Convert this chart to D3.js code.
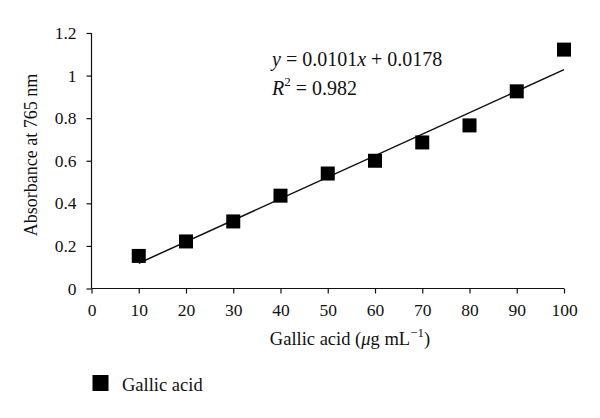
<!DOCTYPE html>
<html><head><meta charset="utf-8">
<script src="https://cdn.jsdelivr.net/npm/d3@7"></script>
<style>body{margin:0;background:#fff}text{font-family:"Liberation Serif","Times New Roman",serif;fill:#111}</style>
</head><body><svg id="c" width="600" height="418"></svg>
<script>
const concentrations = [10,20,30,40,50,60,70,80,90,100];
const absorbance = [0.153,0.221,0.315,0.436,0.54,0.60,0.686,0.766,0.926,1.122];
const xTicks = [0,10,20,30,40,50,60,70,80,90,100];
const yTicks = [0,0.2,0.4,0.6,0.8,1,1.2];
const slope = 0.0101, intercept = 0.0178, r2 = "0.982";
const seriesName = "Gallic acid";

const svg = d3.select("#c");
const x = d3.scaleLinear().domain([0,100]).range([91.5,564]);
const y = d3.scaleLinear().domain([0,1.2]).range([288.5,33]);

const xa = svg.append("g").attr("transform","translate(0,288.5)")
  .call(d3.axisBottom(x).tickValues(xTicks).tickSize(5).tickPadding(10).tickFormat(d3.format("d")));
const ya = svg.append("g").attr("transform","translate(91.5,0)")
  .call(d3.axisLeft(y).tickValues(yTicks).tickSize(5).tickPadding(10).tickFormat(d=>d3.format("")(d)));
[xa,ya].forEach(a=>{a.selectAll("path,line").attr("stroke","#111").attr("stroke-width",1.2);
  a.selectAll("text").style("font-size","17.5px").style("font-family","Liberation Serif");});
xa.select(".domain").attr("d","M"+x(0)+",0H"+x(100));
ya.select(".domain").attr("d","M0,"+y(0)+"V"+y(1.2));

// trend line
svg.append("line").attr("x1",x(10)).attr("y1",y(slope*10+intercept))
  .attr("x2",x(100)).attr("y2",y(slope*100+intercept)).attr("stroke","#111").attr("stroke-width",1.5);

const s = 14;
svg.selectAll("rect.pt").data(concentrations).enter().append("rect").attr("class","pt")
  .attr("x",(d)=>x(d)-s/2).attr("y",(d,i)=>y(absorbance[i])-s/2).attr("width",s).attr("height",s).attr("fill","#000");

// equation
const eq = svg.append("text").attr("x",272).attr("y",66).style("font-size","20px");
eq.append("tspan").style("font-style","italic").text("y");
eq.append("tspan").text(" = 0.0101");
eq.append("tspan").style("font-style","italic").text("x");
eq.append("tspan").text(" + 0.0178");
const r = svg.append("text").attr("x",272).attr("y",95).style("font-size","20px");
r.append("tspan").style("font-style","italic").text("R");
r.append("tspan").attr("dy",-9).style("font-size","13px").text("2");
r.append("tspan").attr("dy",9).text(" = " + r2);

// axis titles
const xl = svg.append("text").attr("x",350).attr("y",345).attr("text-anchor","middle").style("font-size","18.5px");
xl.append("tspan").text("Gallic acid (");
xl.append("tspan").style("font-style","italic").text("μ");
xl.append("tspan").text("g mL");
xl.append("tspan").attr("dy",-8).style("font-size","13px").text("−1");
xl.append("tspan").attr("dy",8).text(")");
svg.append("text").attr("transform","translate(37,155) rotate(-90)").attr("text-anchor","middle")
  .style("font-size","18px").text("Absorbance at 765 nm");

// legend
svg.append("rect").attr("x",92.5).attr("y",375).attr("width",16).attr("height",16).attr("fill","#000");
svg.append("text").attr("x",122).attr("y",391).style("font-size","18.5px").text(seriesName);
</script></body></html>
